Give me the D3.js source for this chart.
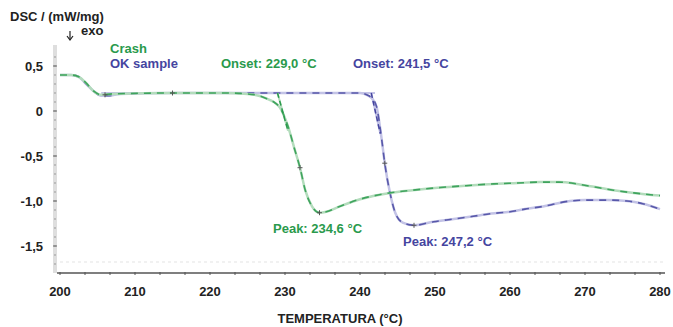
<!DOCTYPE html>
<html>
<head>
<meta charset="utf-8">
<script src="https://cdn.jsdelivr.net/npm/d3@7"></script>
<style>
  body { margin: 0; background: #fff; }
  svg { display: block; font-family: "Liberation Sans", Arial, sans-serif; font-weight: bold; }
</style>
</head>
<body>
<div id="chart"></div>
<script>
// == DATA ==
const crashTemp = [200, 201.5, 202.5, 203.5, 204.5, 205.5, 207, 215, 222, 225, 226.5, 227.5, 228.5, 229.3, 230.4, 231.3, 232, 232.7, 233.6, 234.6, 235.5, 237, 240, 244, 247, 250.7, 254, 257.8, 261, 264, 266.5, 268.9, 271, 273.8, 276.5, 280];
const crashDsc = [0.40, 0.40, 0.38, 0.31, 0.22, 0.18, 0.19, 0.20, 0.20, 0.19, 0.17, 0.14, 0.10, 0.04, -0.17, -0.43, -0.63, -0.88, -1.06, -1.13, -1.12, -1.07, -0.98, -0.91, -0.88, -0.85, -0.83, -0.81, -0.80, -0.79, -0.79, -0.81, -0.84, -0.88, -0.91, -0.94];

const okTemp = [200, 201.5, 202.5, 203.5, 204.5, 205.5, 206.5, 208, 215, 225, 238, 240, 240.9, 241.6, 242.2, 242.9, 243.3, 244, 244.7, 245.7, 247.2, 249.8, 252.5, 255.1, 257.5, 260, 262, 264.4, 268, 270, 273, 275.6, 277.7, 280];
const okDsc = [0.40, 0.40, 0.38, 0.30, 0.22, 0.17, 0.17, 0.19, 0.20, 0.20, 0.20, 0.20, 0.18, 0.14, 0.05, -0.32, -0.58, -0.91, -1.13, -1.24, -1.27, -1.23, -1.20, -1.17, -1.14, -1.12, -1.09, -1.06, -1.00, -0.99, -0.99, -1.00, -1.03, -1.09];

// onset tangents [temp, value] pairs
const crashTangent = [[229.0, 0.20], [230.4, -0.22]];
const okTangent = [[241.5, 0.20], [242.7, -0.25]];

const xTicks = [200, 210, 220, 230, 240, 250, 260, 270, 280];
const yTicks = [0.5, 0, -0.5, -1.0, -1.5];
const yTickLabels = ['0,5', '0', '-0,5', '-1,0', '-1,5'];

// == CONFIG ==
const W = 673, H = 327;
const GREEN = '#2a9a4c', GREEN_LIGHT = '#b3dcbc';
const BLUE = '#45459f', BLUE_LIGHT = '#c3c3e6';
const FS = 13;

const svg = d3.select('#chart').append('svg').attr('width', W).attr('height', H);

const x = d3.scaleLinear().domain([200, 280]).range([60, 660]);
const y = d3.scaleLinear().domain([-1.8, 0.7]).range([273, 48]);

// faint dotted line near bottom
svg.append('line')
  .attr('x1', 60).attr('x2', 665).attr('y1', 262).attr('y2', 262)
  .attr('stroke', '#f1f1f1').attr('stroke-width', 2).attr('stroke-dasharray', '3,3');

// left axis: light band with small ticks
svg.append('line')
  .attr('x1', 55).attr('x2', 55).attr('y1', 45).attr('y2', 273)
  .attr('stroke', '#dedede').attr('stroke-width', 4);
const yMinor = d3.range(-17, 7).map(d => d / 10);
svg.append('g').selectAll('line').data(yMinor).join('line')
  .attr('x1', 54).attr('x2', 56)
  .attr('y1', d => y(d)).attr('y2', d => y(d))
  .attr('stroke', '#999').attr('stroke-width', 1);
svg.append('g').selectAll('line').data(yTicks).join('line')
  .attr('x1', 53).attr('x2', 57)
  .attr('y1', d => y(d)).attr('y2', d => y(d))
  .attr('stroke', '#777').attr('stroke-width', 1.2);
svg.append('g').selectAll('text').data(yTicks).join('text')
  .attr('x', 43).attr('y', d => y(d)).attr('dy', '0.36em')
  .attr('text-anchor', 'end').attr('font-size', FS).attr('fill', '#222')
  .text((d, i) => yTickLabels[i]);

// bottom axis
svg.append('line')
  .attr('x1', 57).attr('x2', 665).attr('y1', 273).attr('y2', 273)
  .attr('stroke', '#555').attr('stroke-width', 1.5);
const xMinor = d3.range(0, 25).map(i => 200 + i * 10 / 3);
svg.append('g').selectAll('line').data(xMinor).join('line')
  .attr('x1', d => x(d)).attr('x2', d => x(d))
  .attr('y1', 272).attr('y2', 275)
  .attr('stroke', '#555').attr('stroke-width', 1);
svg.append('g').selectAll('text').data(xTicks).join('text')
  .attr('x', d => x(d)).attr('y', 296)
  .attr('text-anchor', 'middle').attr('font-size', FS).attr('fill', '#222')
  .text(d => d);

// axis titles
svg.append('text').attr('x', 340).attr('y', 323).attr('text-anchor', 'middle')
  .attr('font-size', FS).attr('fill', '#222').text('TEMPERATURA (°C)');
svg.append('text').attr('x', 10).attr('y', 21)
  .attr('font-size', FS).attr('fill', '#222').text('DSC / (mW/mg)');
svg.append('text').attr('x', 81).attr('y', 35)
  .attr('font-size', FS).attr('fill', '#222').text('exo');
// exo arrow
svg.append('line').attr('x1', 70).attr('x2', 70).attr('y1', 31).attr('y2', 39)
  .attr('stroke', '#222').attr('stroke-width', 1.2);
svg.append('path').attr('d', 'M67,36 L70,40 L73,36').attr('fill', 'none')
  .attr('stroke', '#222').attr('stroke-width', 1.2);

// == CURVES ==
const line = d3.line().x(d => x(d[0])).y(d => y(d[1])).curve(d3.curveMonotoneX);
const tline = d3.line().x(d => x(d[0])).y(d => y(d[1]));

function drawCurve(temps, vals, tangent, light, dark) {
  const pts = temps.map((t, i) => [t, vals[i]]);
  svg.append('path').datum(pts).attr('d', line)
    .attr('fill', 'none').attr('stroke', light).attr('stroke-width', 2.5);
  svg.append('path').datum(tangent).attr('d', tline)
    .attr('fill', 'none').attr('stroke', light).attr('stroke-width', 2);
  svg.append('path').datum(tangent).attr('d', tline)
    .attr('fill', 'none').attr('stroke', dark).attr('stroke-width', 1.5)
    .attr('stroke-dasharray', '5,3');
  svg.append('path').datum(pts).attr('d', line)
    .attr('fill', 'none').attr('stroke', dark).attr('stroke-width', 1.6)
    .attr('stroke-dasharray', '7,6').attr('opacity', 0.85);
}

// baseline extension of the OK sample (light)
svg.append('path').datum([[205.5, 0.20], [242, 0.20]]).attr('d', tline)
  .attr('fill', 'none').attr('stroke', BLUE_LIGHT).attr('stroke-width', 2);

drawCurve(okTemp, okDsc, okTangent, BLUE_LIGHT, BLUE);
drawCurve(crashTemp, crashDsc, crashTangent, GREEN_LIGHT, GREEN);

// small markers
const markers = [[234.6, -1.13], [232.0, -0.63], [247.2, -1.27], [243.3, -0.58], [215, 0.20], [206, 0.18]];
svg.append('g').selectAll('path').data(markers).join('path')
  .attr('d', d => `M${x(d[0]) - 2.5},${y(d[1])} h5 M${x(d[0])},${y(d[1]) - 2.5} v5`)
  .attr('stroke', '#555').attr('stroke-width', 1);

// == LABELS ==
const labels = [
  { text: 'Crash', x: 110, y: 53, c: GREEN },
  { text: 'OK sample', x: 110, y: 68, c: BLUE },
  { text: 'Onset: 229,0 °C', x: 221, y: 68, c: GREEN },
  { text: 'Onset: 241,5 °C', x: 353, y: 68, c: BLUE },
  { text: 'Peak: 234,6 °C', x: 273, y: 233, c: GREEN },
  { text: 'Peak: 247,2 °C', x: 403, y: 246, c: BLUE }
];
svg.append('g').selectAll('text').data(labels).join('text')
  .attr('x', d => d.x).attr('y', d => d.y)
  .attr('font-size', FS).attr('fill', d => d.c)
  .text(d => d.text);
</script>
</body>
</html>
